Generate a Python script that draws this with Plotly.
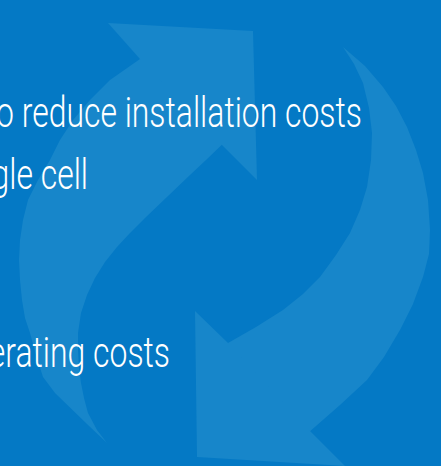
import plotly.graph_objects as go

# Visible text lines of the slide crop
text_lines = ["o reduce installation costs", "gle cell", "erating costs"]
text_end_x = [362, 88, 170]
text_mid_y = [117, 179, 357]

# Decorative arrow outlines (pixel coordinates of the slide crop)
up_head_x = [140, 108, 253, 257, 222]
up_head_y = [59, 23, 31, 180, 145]
up_body_x = [150, 140, 110, 90, 73, 60, 50, 38, 28, 23, 20, 19, 20, 22, 25, 30, 36, 43, 55, 70, 88, 107,
             97, 88, 84, 81, 79, 78, 78, 81, 87, 95, 105, 117, 130, 145, 160, 175, 190, 206, 222, 232]
up_body_y = [50, 59, 80, 100, 120, 140, 160, 180, 200, 220, 240, 260, 280, 300, 318, 333, 355, 377, 393, 408, 425, 443,
             430, 413, 398, 383, 368, 350, 333, 313, 295, 278, 262, 247, 233, 218, 204, 189, 175, 160, 145, 135]

down_head_x = [228, 195, 197, 337, 345, 310]
down_head_y = [343, 311, 457, 466, 466, 431]
down_body_x = [215, 228, 256, 283, 303, 320, 336, 350, 360, 367, 371, 372, 369, 363, 354, 343,
               365, 383, 396, 407, 416, 423, 428, 430, 429, 423, 413, 400, 384, 367, 340, 310, 300]
down_body_y = [352, 343, 327, 310, 294, 277, 255, 233, 210, 187, 160, 133, 108, 83, 64, 47,
               66, 87, 106, 127, 150, 173, 200, 230, 254, 277, 304, 330, 357, 380, 405, 431, 440]

bg = "#0479c5"
arrow = "#1786ca"

fig = go.Figure()
for xs, ys in [(up_body_x, up_body_y), (up_head_x, up_head_y),
               (down_body_x, down_body_y), (down_head_x, down_head_y)]:
    fig.add_trace(go.Scatter(x=xs + [xs[0]], y=ys + [ys[0]], mode="lines", fill="toself",
                             fillcolor=arrow, line=dict(color=arrow, width=0),
                             hoverinfo="skip", showlegend=False))

fig.add_trace(go.Scatter(x=text_end_x, y=text_mid_y, mode="text", text=text_lines,
                         textposition="middle left", cliponaxis=False,
                         textfont=dict(family="Roboto, sans-serif",
                                       size=42, color="white", weight=300),
                         hoverinfo="skip", showlegend=False))

fig.update_layout(width=441, height=466, margin=dict(l=0, r=0, t=0, b=0),
                  paper_bgcolor=bg, plot_bgcolor=bg,
                  xaxis=dict(range=[0, 441], visible=False, fixedrange=True),
                  yaxis=dict(range=[466, 0], visible=False, fixedrange=True))

# condensed look: narrow each text horizontally about its right-end anchor
condense_js = """
document.body.style.margin='0';
var gd = document.getElementById('{plot_id}');
gd.querySelectorAll('.textpoint text').forEach(function(t){
  var x = parseFloat(t.getAttribute('x')) || 0;
  var s = 0.76;
  t.setAttribute('transform', 'translate(' + (x*(1-s)) + ',0) scale(' + s + ',1)');
});
"""
fig.write_html("out.html", config={"displayModeBar": False}, post_script=condense_js)
